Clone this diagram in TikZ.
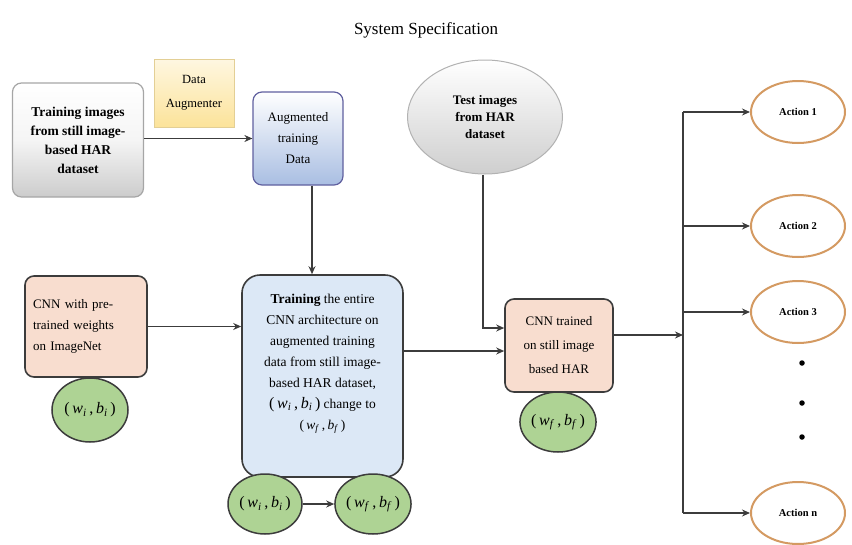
\documentclass[tikz,border=0pt]{standalone}
\usepackage{fontspec}
\setmainfont{Liberation Serif}
\usetikzlibrary{arrows.meta,shapes.geometric}
\definecolor{lineg}{HTML}{3C3C3C}
\definecolor{salmon}{HTML}{F8DDCF}
\definecolor{paleblue}{HTML}{DCE8F6}
\definecolor{leaf}{HTML}{AED394}
\definecolor{orng}{HTML}{D49A62}
\definecolor{augblue}{HTML}{A9BEE2}
\definecolor{yel}{HTML}{FCE39A}
\newcommand{\wbi}{(\,\textit{w}\textsubscript{\textit{i}}\,,\,\textit{b}\textsubscript{\textit{i}}\,)}
\newcommand{\wbf}{(\,\textit{w}\textsubscript{\textit{f}}\,,\,\textit{b}\textsubscript{\textit{f}}\,)}
\tikzset{
  arr/.style={draw=lineg, line width=1.7pt, -{Stealth[length=8pt,width=7pt]}},
  ln/.style={draw=lineg, line width=1.7pt},
  boxbase/.style={rounded corners=9pt, inner sep=0pt, align=center},
  graybox/.style={boxbase, draw=gray!70, line width=1.2pt, top color=white, bottom color=gray!40, middle color=gray!8},
  yelbox/.style={draw=yel!80!gray, line width=0.6pt, top color=yel!30, bottom color=yel, inner sep=0pt, align=center},
  bluebox/.style={boxbase, draw=blue!25!gray, line width=1.2pt, top color=white, bottom color=augblue},
  salbox/.style={boxbase, draw=lineg, line width=1.6pt, fill=salmon},
  bigbox/.style={boxbase, rounded corners=18pt, draw=lineg, line width=1.6pt, fill=paleblue},
  leafell/.style={ellipse, draw=lineg, line width=1.5pt, fill=leaf, inner sep=0pt, font=\fontsize{16}{18}\selectfont},
  actell/.style={ellipse, draw=orng, line width=2pt, fill=white, inner sep=0pt, minimum width=94pt, minimum height=62pt, font=\bfseries\fontsize{10.5}{12}\selectfont},
}
\begin{document}
\begin{tikzpicture}[x=1pt,y=-1pt]
\useasboundingbox (0,0) rectangle (852,544);
\node[font=\fontsize{17}{20}\selectfont] (title) at (426,30) {System Specification};

\node[graybox, minimum width=131pt, minimum height=114pt, font=\bfseries\fontsize{13.5}{19}\selectfont] (train) at (78,140)
  {Training images\\from still image-\\based HAR\\dataset};
\node[yelbox, minimum width=80pt, minimum height=68pt, font=\fontsize{12.5}{24}\selectfont] (daug) at (194,93) {Data\\Augmenter};
\node[bluebox, minimum width=90pt, minimum height=93pt, font=\fontsize{13}{21}\selectfont] (aug) at (298,138.5)
  {Augmented\\training\\Data};

\node[salbox, minimum width=122pt, minimum height=101pt, font=\fontsize{13}{21}\selectfont, align=left, text width=106pt] (cnn) at (86,326.5)
  {CNN with pre-\\trained weights\\on ImageNet\\[26pt]};
\node[leafell, minimum width=76pt, minimum height=64pt] (e1) at (90,410) {\wbi};

\node[bigbox, minimum width=161pt, minimum height=202pt, font=\fontsize{13.5}{21}\selectfont] (big) at (322.5,376)
  {\textbf{Training} the entire\\CNN architecture on\\augmented training\\data from still image-\\based HAR dataset,\\{\fontsize{16}{16}\selectfont\wbi} change to\\\wbf\\[8pt]};
\node[leafell, minimum width=74pt, minimum height=60pt] (e2) at (265,504) {\wbi};
\node[leafell, minimum width=76pt, minimum height=60pt] (e3) at (373,504) {\wbf};

\node[ellipse, draw=gray!60, line width=1pt, top color=white, bottom color=gray!38, inner sep=0pt, minimum width=155pt, minimum height=114pt, align=center, font=\bfseries\fontsize{13}{17}\selectfont] (test) at (485,117)
  {Test images\\from HAR\\dataset};

\node[salbox, minimum width=108pt, minimum height=93pt, font=\fontsize{13}{24}\selectfont] (trained) at (559,345.5)
  {CNN trained\\on still image\\based HAR};
\node[leafell, minimum width=76pt, minimum height=60pt] (e4) at (558,422) {\wbf};

\node[actell] (a1) at (798,112) {Action 1};
\node[actell] (a2) at (798,226) {Action 2};
\node[actell] (a3) at (798,312) {Action 3};
\node[actell] (an) at (798,513) {Action n};
\foreach \yy/\nm in {363/d1,403/d2,437/d3}
  \node[circle, fill=black, inner sep=0pt, minimum size=5.5pt] (\nm) at (802,\yy) {};

\coordinate (bustop) at (683,112);
\coordinate (busbot) at (683,513);

\draw[arr] (train.east |- aug.west) -- (aug.west);
\draw[arr] ([xshift=14pt]aug.south) -- ([xshift=14pt]aug.south |- big.north);
\draw[arr] (cnn.east) -- (cnn.east -| big.west);
\draw[arr] (e2.east) -- (e3.west);
\draw[arr] ([yshift=-5.5pt]trained.west -| big.east) -- ([yshift=-5.5pt]trained.west);
\draw[arr] ([xshift=-2pt]test.south) |- ([yshift=17.5pt]trained.west);
\draw[arr] ([yshift=10.5pt]trained.east) -- ([yshift=10.5pt]trained.east -| bustop);
\draw[ln] (bustop) -- (busbot);
\foreach \a in {a1,a2,a3,an}
  \draw[arr] (bustop |- \a.west) -- (\a.west);
\end{tikzpicture}
\end{document}
